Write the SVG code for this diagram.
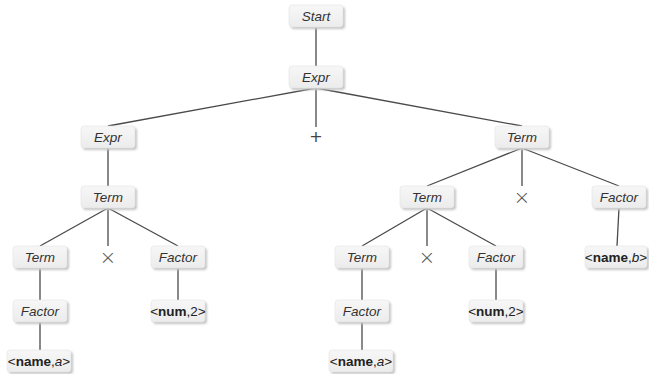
<svg xmlns="http://www.w3.org/2000/svg" width="649" height="374" viewBox="0 0 649 374">
  <defs>
    <linearGradient id="boxFill" x1="0" y1="0" x2="0" y2="1">
      <stop offset="0" stop-color="#f7f7f7"/>
      <stop offset="1" stop-color="#ececec"/>
    </linearGradient>
    <filter id="soft" x="-20%" y="-20%" width="140%" height="160%">
      <feGaussianBlur stdDeviation="0.8"/>
    </filter>
  </defs>
  <style>
    .shadow { fill: #c4c4c4; filter: url(#soft); }
    .box { fill: url(#boxFill); stroke: #e2e2e2; stroke-width: 0.6; }
    .lbl { font-family: "Liberation Sans", Arial, sans-serif; font-size: 13.5px; font-style: italic; fill: #333; text-anchor: middle; dominant-baseline: central; }
    .tok { font-family: "Liberation Sans", Arial, sans-serif; font-size: 13.5px; fill: #222; text-anchor: middle; dominant-baseline: central; }
    .tok .b { font-weight: bold; }
    .tok .i { font-style: italic; }
    .op { font-family: "DejaVu Sans", sans-serif; font-size: 16px; fill: #444; text-anchor: middle; dominant-baseline: central; }
    .x { font-family: "DejaVu Sans", sans-serif; font-size: 20px; font-weight: 200; fill: #555; text-anchor: middle; dominant-baseline: central; }
    .edges line { stroke: #4a4a4a; stroke-width: 1.3; }
  </style>

  <!-- tree edges -->
  <g id="connectors" class="edges">
    <line x1="316" y1="28" x2="316" y2="66"/>
    <line x1="316" y1="88" x2="108" y2="126"/>
    <line x1="316" y1="88" x2="316" y2="127"/>
    <line x1="316" y1="88" x2="522" y2="126"/>
    <line x1="108" y1="148" x2="108" y2="186"/>
    <line x1="108" y1="208" x2="40" y2="246"/>
    <line x1="108" y1="208" x2="108" y2="246"/>
    <line x1="108" y1="208" x2="178" y2="246"/>
    <line x1="40" y1="268" x2="40" y2="300"/>
    <line x1="40" y1="322" x2="40" y2="350"/>
    <line x1="178" y1="268" x2="178" y2="300"/>
    <line x1="522" y1="148" x2="427" y2="186"/>
    <line x1="522" y1="148" x2="522" y2="186"/>
    <line x1="522" y1="148" x2="619" y2="186"/>
    <line x1="427" y1="208" x2="362" y2="246"/>
    <line x1="427" y1="208" x2="427" y2="246"/>
    <line x1="427" y1="208" x2="496" y2="246"/>
    <line x1="362" y1="268" x2="362" y2="300"/>
    <line x1="362" y1="322" x2="362" y2="350"/>
    <line x1="496" y1="268" x2="496" y2="300"/>
    <line x1="619" y1="208" x2="617" y2="246"/>
  </g>

  <!-- root -->
  <g id="start">
    <rect class="shadow" x="291" y="7" width="54" height="22" rx="3"/>
    <rect class="box" x="289" y="5" width="54" height="22" rx="3"/>
    <text class="lbl" x="316" y="16">Start</text>
  </g>
  <g id="expr-root">
    <rect class="shadow" x="291" y="68" width="54" height="22" rx="3"/>
    <rect class="box" x="289" y="66" width="54" height="22" rx="3"/>
    <text class="lbl" x="316" y="77">Expr</text>
  </g>
  <g id="plus">
    <text class="op" x="316" y="136">+</text>
  </g>

  <!-- left subtree -->
  <g id="expr-left">
    <rect class="shadow" x="83" y="128" width="54" height="22" rx="3"/>
    <rect class="box" x="81" y="126" width="54" height="22" rx="3"/>
    <text class="lbl" x="108" y="137">Expr</text>
  </g>
  <g id="term-l1">
    <rect class="shadow" x="83" y="188" width="54" height="22" rx="3"/>
    <rect class="box" x="81" y="186" width="54" height="22" rx="3"/>
    <text class="lbl" x="108" y="197">Term</text>
  </g>
  <g id="term-l2">
    <rect class="shadow" x="15" y="248" width="54" height="22" rx="3"/>
    <rect class="box" x="13" y="246" width="54" height="22" rx="3"/>
    <text class="lbl" x="40" y="257">Term</text>
  </g>
  <g id="times-l">
    <text class="x" x="108" y="257">×</text>
  </g>
  <g id="factor-l2">
    <rect class="shadow" x="153" y="248" width="54" height="22" rx="3"/>
    <rect class="box" x="151" y="246" width="54" height="22" rx="3"/>
    <text class="lbl" x="178" y="257">Factor</text>
  </g>
  <g id="factor-l3">
    <rect class="shadow" x="15" y="302" width="54" height="22" rx="3"/>
    <rect class="box" x="13" y="300" width="54" height="22" rx="3"/>
    <text class="lbl" x="40" y="311">Factor</text>
  </g>
  <g id="num-l">
    <rect class="shadow" x="153" y="302" width="54" height="22" rx="3"/>
    <rect class="box" x="151" y="300" width="54" height="22" rx="3"/>
    <text class="tok" x="178" y="311">&lt;<tspan class="b">num</tspan>,2&gt;</text>
  </g>
  <g id="name-a-l">
    <rect class="shadow" x="9" y="352" width="64" height="22" rx="3"/>
    <rect class="box" x="7" y="350" width="64" height="22" rx="3"/>
    <text class="tok" x="39" y="361">&lt;<tspan class="b">name</tspan>,<tspan class="i">a</tspan>&gt;</text>
  </g>

  <!-- right subtree -->
  <g id="term-r0">
    <rect class="shadow" x="497" y="128" width="54" height="22" rx="3"/>
    <rect class="box" x="495" y="126" width="54" height="22" rx="3"/>
    <text class="lbl" x="522" y="137">Term</text>
  </g>
  <g id="term-r1">
    <rect class="shadow" x="402" y="188" width="54" height="22" rx="3"/>
    <rect class="box" x="400" y="186" width="54" height="22" rx="3"/>
    <text class="lbl" x="427" y="197">Term</text>
  </g>
  <g id="times-r1">
    <text class="x" x="522" y="197">×</text>
  </g>
  <g id="factor-r1">
    <rect class="shadow" x="594" y="188" width="54" height="22" rx="3"/>
    <rect class="box" x="592" y="186" width="54" height="22" rx="3"/>
    <text class="lbl" x="619" y="197">Factor</text>
  </g>
  <g id="name-b">
    <rect class="shadow" x="587" y="248" width="62" height="22" rx="3"/>
    <rect class="box" x="585" y="246" width="62" height="22" rx="3"/>
    <text class="tok" x="616" y="257">&lt;<tspan class="b">name</tspan>,<tspan class="i">b</tspan>&gt;</text>
  </g>
  <g id="term-r2">
    <rect class="shadow" x="337" y="248" width="54" height="22" rx="3"/>
    <rect class="box" x="335" y="246" width="54" height="22" rx="3"/>
    <text class="lbl" x="362" y="257">Term</text>
  </g>
  <g id="times-r2">
    <text class="x" x="427" y="257">×</text>
  </g>
  <g id="factor-r2">
    <rect class="shadow" x="471" y="248" width="54" height="22" rx="3"/>
    <rect class="box" x="469" y="246" width="54" height="22" rx="3"/>
    <text class="lbl" x="496" y="257">Factor</text>
  </g>
  <g id="factor-r3">
    <rect class="shadow" x="337" y="302" width="54" height="22" rx="3"/>
    <rect class="box" x="335" y="300" width="54" height="22" rx="3"/>
    <text class="lbl" x="362" y="311">Factor</text>
  </g>
  <g id="num-r">
    <rect class="shadow" x="471" y="302" width="54" height="22" rx="3"/>
    <rect class="box" x="469" y="300" width="54" height="22" rx="3"/>
    <text class="tok" x="496" y="311">&lt;<tspan class="b">num</tspan>,2&gt;</text>
  </g>
  <g id="name-a-r">
    <rect class="shadow" x="331" y="352" width="64" height="22" rx="3"/>
    <rect class="box" x="329" y="350" width="64" height="22" rx="3"/>
    <text class="tok" x="361" y="361">&lt;<tspan class="b">name</tspan>,<tspan class="i">a</tspan>&gt;</text>
  </g>
</svg>
